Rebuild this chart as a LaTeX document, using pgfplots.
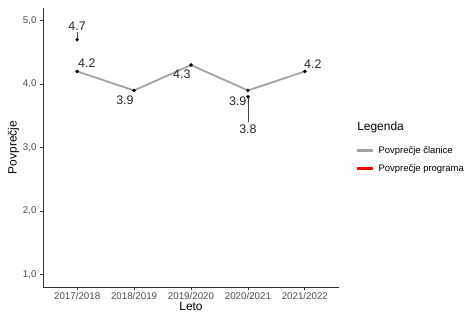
\documentclass[border=0pt]{standalone}
\usepackage{pgfplots}
\pgfplotsset{compat=1.18}
\usepackage{fontspec}
\setmainfont{Liberation Sans}
\definecolor{tickgray}{HTML}{4D4D4D}
\definecolor{linegray}{HTML}{A3A3A3}
\definecolor{axisdark}{HTML}{333333}
\begin{document}
\begin{tikzpicture}[x=1bp,y=1bp]
\path[use as bounding box] (0,0) rectangle (473,318);
\begin{axis}[
  at={(43bp,31bp)}, anchor=south west,
  scale only axis, width=296bp, height=279bp,
  xmin=-0.6, xmax=4.6, ymin=0.8, ymax=5.2,
  axis x line*=bottom, axis y line*=left,
  axis line style={axisdark, line width=1bp},
  xtick={0,1,2,3,4},
  xticklabels={2017/2018,2018/2019,2019/2020,2020/2021,2021/2022},
  ytick={1,2,3,4,5},
  /pgf/number format/assume math mode=true,
  yticklabel style={/pgf/number format/.cd, fixed, fixed zerofill, precision=1, use comma},
  ticklabel style={font=\fontsize{9.8}{11}\selectfont, text=tickgray},
  xticklabel style={yshift=1bp},
  tick align=outside, major tick length=3bp,
  tick style={axisdark, line width=0.8bp},
  xlabel={Leto}, ylabel={Povprečje},
  label style={font=\fontsize{12}{14}\selectfont},
  xlabel style={at={(axis description cs:0.5,-0.068)}, anchor=center},
  ylabel style={at={(axis description cs:-0.1,0.5)}, anchor=center, rotate=0},
  legend style={at={(axis description cs:1.058,0.512)}, anchor=north west, draw=none, fill=none,
    font=\fontsize{9.5}{11}\selectfont, row sep=5.5bp, inner sep=0pt,
    nodes={inner xsep=4bp}},
  legend cell align=left,
  legend image code/.code={\draw[#1, line width=2.2bp] (0bp,0bp) -- (16bp,0bp);},
  clip=false,
]
\addlegendimage{linegray}
\addlegendentry{Povprečje članice}
\addlegendimage{red}
\addlegendentry{Povprečje programa}
\addplot[linegray, line width=1.8bp, forget plot] coordinates {(0,4.2)(1,3.9)(2,4.3)(3,3.9)(4,4.2)};
\addplot[red, line width=1.8bp, unbounded coords=jump, forget plot] coordinates {(0,4.7)(1,nan)(2,nan)(3,3.8)(4,nan)};
\addplot[black!75, line width=0.8bp, forget plot] coordinates {(0,4.7)(0,4.82)};
\addplot[black!75, line width=0.8bp, forget plot] coordinates {(3,3.8)(3,3.4)};
\addplot[only marks, mark=*, mark size=1.6bp, black, forget plot] coordinates {(0,4.2)(1,3.9)(2,4.3)(3,3.9)(4,4.2)(0,4.7)(3,3.8)};
\begin{scope}[every node/.style={font=\fontsize{12.5}{14}\selectfont, text=black!85, inner sep=0pt}]
\node at (axis cs:0,4.91) {4.7};
\node at (axis cs:0.17,4.33) {4.2};
\node at (axis cs:0.84,3.75) {3.9};
\node at (axis cs:1.84,4.16) {4.3};
\node at (axis cs:2.82,3.73) {3.9};
\node at (axis cs:3,3.29) {3.8};
\node at (axis cs:4.14,4.31) {4.2};
\end{scope}
\node[anchor=west, inner sep=0pt, font=\fontsize{12}{14}\selectfont] at (axis description cs:1.061,0.573) {Legenda};
\end{axis}
\end{tikzpicture}
\end{document}
